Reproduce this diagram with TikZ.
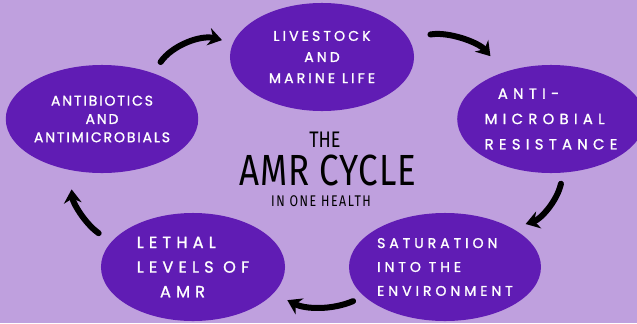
\documentclass[tikz,border=0pt]{standalone}
\usepackage{fontspec}
\setmainfont{Poppins}
\newfontfamily\blobfont[FakeBold=1.2,LetterSpace=13]{Poppins}
\newfontfamily\titlefont[FakeStretch=0.8]{Fira Sans}
\usetikzlibrary{arrows.meta,shapes.geometric}
\definecolor{lilac}{RGB}{191,160,222}
\definecolor{blobpurple}{RGB}{96,28,180}

\begin{document}
\begin{tikzpicture}[x=0.025cm,y=-0.025cm,>={Stealth[length=0.34cm,width=0.44cm]}]
  \tikzstyle{blob}=[ellipse,fill=blobpurple,text=white,inner sep=0pt,
                    minimum width=4.6cm,minimum height=2.7cm,
                    font=\blobfont\fontsize{10}{15}\selectfont]
  \tikzstyle{title}=[anchor=base,text=black,inner sep=0pt]
  \tikzstyle{cycle}=[->,line width=0.15cm,line cap=round,black]

  \useasboundingbox (0,0) rectangle (637,323);
  \fill[lilac] (0,0) rectangle (637,323);

  % the five stages
  \node [blob,align=center,
         font=\blobfont\fontsize{10}{15}\selectfont\addfontfeatures{LetterSpace=22}]
    (live) at (322,57) {LIVESTOCK\\AND\\MARINE LIFE};
  \node [blob,align=left,
         font=\blobfont\fontsize{10.5}{18}\selectfont\addfontfeatures{LetterSpace=36}]
    (res) at (551,119) {\hspace*{0.33cm}ANTI-\\MICROBIAL\\RESISTANCE};
  \node [blob,align=left,
         font=\blobfont\fontsize{10}{17}\selectfont\addfontfeatures{LetterSpace=28}]
    (sat) at (445,267) {SATURATION\\INTO THE\\ENVIRONMENT};
  \node [blob,align=left,
         font=\blobfont\fontsize{11.5}{17.5}\selectfont\addfontfeatures{LetterSpace=32}]
    (leth) at (193,267) {LETHAL\\LEVELS OF\\\hspace*{0.58cm}AMR};
  \node [blob,align=center,font=\blobfont\fontsize{10}{13}\selectfont]
    (anti) at (102,119) {ANTIBIOTICS\\AND\\ANTIMICROBIALS};

  % title in the middle
  \node [title] (the) at (325,147) {\titlefont\fontsize{16}{18}\selectfont THE};
  \node [title] (amr) at (328,185)
    {\titlefont\fontsize{31}{34}\selectfont\addfontfeatures{LetterSpace=2}AMR CYCLE};
  \node [title] (health) at (321,206)
    {\titlefont\fontsize{11}{12}\selectfont\addfontfeatures{LetterSpace=10}IN ONE HEALTH};

  % arrows round the cycle
  \draw [cycle,shorten <=0.33cm,shorten >=0.28cm] (anti.42) to [bend left=35] (live.171);
  \draw [cycle,shorten <=0.55cm,shorten >=0.52cm] (live.12) to [bend left=30] (res.135);
  \draw [cycle,shorten <=0.28cm,shorten >=0.35cm] (res.283) to [bend left=30] (sat.30);
  \draw [cycle,shorten <=0.30cm,shorten >=0.38cm] (sat.200) to [bend left=25] (leth.342);
  \draw [cycle,shorten <=0.38cm,shorten >=0.48cm] (leth.163) to [bend left=25] (anti.238);
\end{tikzpicture}
\end{document}
